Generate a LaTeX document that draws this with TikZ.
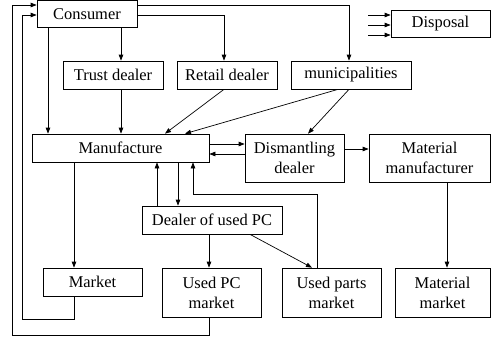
\documentclass[tikz,border=0pt]{standalone}
\usepackage{fontspec}
\setmainfont{Liberation Serif}
\usepackage{tikz}
\usetikzlibrary{arrows.meta, positioning, calc}

\tikzset{
  blk/.style={draw, line width=0.7bp, inner sep=0pt, align=center,
    font=\fontsize{16.5}{20}\selectfont},
  arr/.style={line width=0.7bp, -{Triangle[length=6bp,width=4.5bp]}}
}

\begin{document}
\begin{tikzpicture}[x=1bp, y=-1bp]
  \useasboundingbox (0,0) rectangle (491,338);
  % boxes
  \node[blk, minimum width=100bp, minimum height=27bp] (cons)  at (87,14)      {Consumer};
  \node[blk, minimum width=99bp,  minimum height=27bp] (disp)  at (440.5,23.5) {Disposal};
  \node[blk, minimum width=100bp, minimum height=28bp] (trust) at (113,75)     {Trust dealer};
  \node[blk, minimum width=100bp, minimum height=28bp] (retail) at (227,75)    {Retail dealer};
  \node[blk, minimum width=120bp, minimum height=28bp] (muni)  at (351,75)     {municipalities};
  \node[blk, minimum width=177bp, minimum height=28bp] (mfg)   at (120.5,148)  {Manufacture};
  \node[blk, minimum width=99bp,  minimum height=48bp] (dism)  at (294.5,158)  {Dismantling\\dealer};
  \node[blk, minimum width=121bp, minimum height=48bp] (matm)  at (429.5,158)  {Material\\manufacturer};
  \node[blk, minimum width=140bp, minimum height=28bp] (dup)   at (212,220)    {Dealer of used PC};
  \node[blk, minimum width=99bp,  minimum height=28bp] (mkt)   at (92.5,282)   {Market};
  \node[blk, minimum width=99bp,  minimum height=49bp] (upc)   at (211.5,292.5) {Used PC\\market};
  \node[blk, minimum width=99bp,  minimum height=49bp] (upm)   at (331.5,292.5) {Used parts\\market};
  \node[blk, minimum width=95bp,  minimum height=49bp] (mm)    at (442.5,292.5) {Material\\market};

  % from the consumer
  \draw[arr] (48,0 |- cons.south) -- (48,0 |- mfg.north);
  \draw[arr] (121,0 |- cons.south) -- (121,0 |- trust.north);
  \draw[arr] (0,15 -| cons.east) -| (224,0 |- retail.north);
  \draw[arr] (0,5 -| cons.east) -| (349,0 |- muni.north);

  % collection into manufacture
  \draw[arr] (121,0 |- trust.south) -- (121,0 |- mfg.north);
  \draw[arr] (224,0 |- retail.south) -- (165,0 |- mfg.north);
  \draw[arr] (338,0 |- muni.south) -- (185,0 |- mfg.north);
  \draw[arr] (349,0 |- muni.south) -- (308,0 |- dism.north);

  % dismantling
  \draw[arr] (0,144 -| mfg.east) -- (0,144 -| dism.west);
  \draw[arr] (0,154 -| dism.west) -- (0,154 -| mfg.east);
  \draw[arr] (0,149 -| dism.east) -- (0,149 -| matm.west);
  \draw[arr] (447,0 |- matm.south) -- (447,0 |- mm.north);

  % used PC flows
  \draw[arr] (74,0 |- mfg.south) -- (74,0 |- mkt.north);
  \draw[arr] (157,0 |- dup.north) -- (157,0 |- mfg.south);
  \draw[arr] (178,0 |- mfg.south) -- (178,0 |- dup.north);
  \draw[arr] (209,0 |- dup.south) -- (209,0 |- upc.north);
  \draw[arr] (250,0 |- dup.south) -- (312,0 |- upm.north);
  \draw[arr] (317,0 |- upm.north) -- ++(0,-73) -| (193,0 |- mfg.south);

  % back to the consumer
  \draw[arr] (209,0 |- upc.south) -- ++(0,18) -| (12,5) -- (0,5 -| cons.west);
  \draw[arr] (74,0 |- mkt.south) -- ++(0,23) -| (22,15) -- (0,15 -| cons.west);

  % into disposal
  \foreach \yy in {15,25,35}
    \draw[arr] (368,\yy) -- (0,\yy -| disp.west);
\end{tikzpicture}
\end{document}
